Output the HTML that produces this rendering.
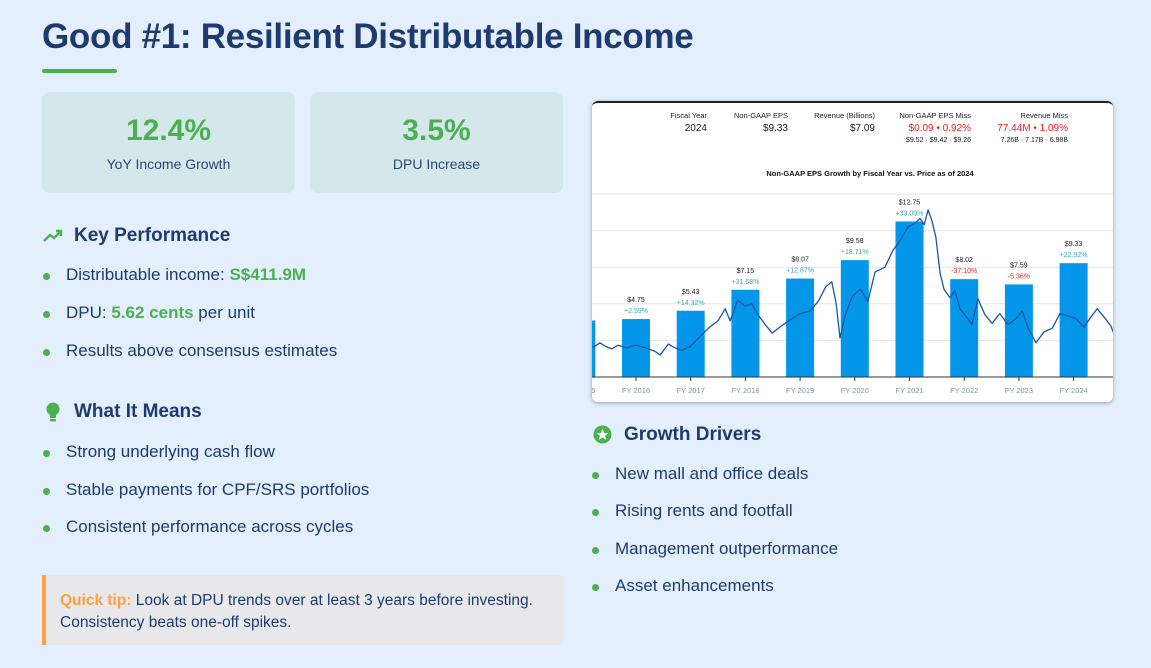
<!DOCTYPE html>
<html><head><meta charset="utf-8">
<style>
*{margin:0;padding:0;box-sizing:border-box}
body{width:1151px;height:668px;background:#e3effd;font-family:"Liberation Sans",sans-serif;color:#1e3a6e;position:relative;overflow:hidden}
.a{position:absolute}
h1{position:absolute;left:42px;top:17px;font-size:35px;font-weight:bold;color:#1e3a6e;letter-spacing:-0.3px}
.card{position:absolute;top:92px;height:101px;width:253px;background:#d4e8ec;border-radius:8px;text-align:center}
.card .v{font-size:30px;font-weight:bold;color:#4caf50;margin-top:22px}
.card .l{font-size:14px;color:#2a4670;margin-top:8px}
.sh{position:absolute;font-size:19px;font-weight:bold;color:#1e3a6e}
.li{position:absolute;font-size:17px;color:#1e3a6e}
.li:before{content:"";position:absolute;left:-23px;top:8px;width:7px;height:7px;border-radius:50%;background:#4caf50}
.g{color:#4caf50;font-weight:bold}
</style></head><body>
<h1>Good #1: Resilient Distributable Income</h1>
<div class="a" style="left:42px;top:69px;width:75px;height:4px;background:#4caf50;border-radius:2px"></div>
<div class="card" style="left:42px"><div class="v">12.4%</div><div class="l">YoY Income Growth</div></div>
<div class="card" style="left:310px"><div class="v">3.5%</div><div class="l">DPU Increase</div></div>

<svg class="a" style="left:42px;top:227px" width="22" height="18" viewBox="0 0 22 18"><polyline points="2,14 8,8 12,11 19,4" fill="none" stroke="#4caf50" stroke-width="2.5"/><polyline points="14,4 19,4 19,9" fill="none" stroke="#4caf50" stroke-width="2.5"/></svg>
<div class="sh" style="left:74px;top:225px">Key Performance</div>
<div class="li" style="left:66px;top:265px">Distributable income: <span class="g">S$411.9M</span></div>
<div class="li" style="left:66px;top:303px">DPU: <span class="g">5.62 cents</span> per unit</div>
<div class="li" style="left:66px;top:341px">Results above consensus estimates</div>

<svg class="a" style="left:45px;top:402px" width="16" height="22" viewBox="0 0 16 22"><circle cx="8" cy="7" r="6.5" fill="#4caf50"/><rect x="5" y="11" width="6" height="5" fill="#4caf50"/><rect x="5" y="17" width="6" height="2.5" rx="1" fill="#4caf50"/></svg>
<div class="sh" style="left:74px;top:401px">What It Means</div>
<div class="li" style="left:66px;top:442px">Strong underlying cash flow</div>
<div class="li" style="left:66px;top:480px">Stable payments for CPF/SRS portfolios</div>
<div class="li" style="left:66px;top:517px">Consistent performance across cycles</div>

<div class="a" style="left:42px;top:575px;width:521px;height:70px;background:#e8e8ea;border-left:4px solid #ff9f43;border-radius:0 5px 5px 0;padding:15px 0 0 14px;font-size:15.5px;line-height:22px;color:#1e3a6e"><span style="color:#ff9f43;font-weight:bold">Quick tip:</span> Look at DPU trends over at least 3 years before investing.<br>Consistency beats one-off spikes.</div>

<div class="a" style="left:592px;top:101px;width:521px;height:301px;background:#fff;border-top:2px solid #222;border-radius:6px;box-shadow:0 1px 4px rgba(0,0,0,0.35);overflow:hidden">
<svg id="chart" width="521" height="299" viewBox="592 103 521 299" style="display:block" font-family="Liberation Sans,sans-serif"></svg>
</div>

<svg class="a" style="left:593px;top:425px" width="19" height="19" viewBox="0 0 19 19"><circle cx="9.5" cy="9.5" r="9" fill="#4caf50"/><polygon points="9.5,3.5 11,8 15.5,8 12,10.8 13.3,15 9.5,12.4 5.7,15 7,10.8 3.5,8 8,8" fill="#fff"/></svg>
<div class="sh" style="left:624px;top:424px">Growth Drivers</div>
<div class="li" style="left:615px;top:464px">New mall and office deals</div>
<div class="li" style="left:615px;top:501px">Rising rents and footfall</div>
<div class="li" style="left:615px;top:539px">Management outperformance</div>
<div class="li" style="left:615px;top:576px">Asset enhancements</div>

<script>
const years=["FY 2015","FY 2016","FY 2017","FY 2018","FY 2019","FY 2020","FY 2021","FY 2022","FY 2023","FY 2024"];
const eps=[4.63,4.75,5.43,7.15,8.07,9.58,12.75,8.02,7.59,9.33];
const growth=["","+2.59%","+14.32%","+31.68%","+12.87%","+18.71%","+33.09%","-37.10%","-5.36%","+22.92%"];
const priceT=[-0.79,-0.66,-0.55,-0.44,-0.33,-0.18,0,0.18,0.35,0.44,0.59,0.71,0.84,0.99,1.17,1.35,1.50,1.63,1.72,1.86,1.99,2.12,2.23,2.36,2.49,2.63,2.82,3.00,3.18,3.33,3.47,3.58,3.66,3.73,3.82,3.95,4.10,4.24,4.37,4.55,4.70,4.83,4.97,5.10,5.19,5.27,5.34,5.41,5.48,5.56,5.63,5.74,5.83,5.92,6.03,6.14,6.25,6.38,6.51,6.65,6.80,6.95,7.06,7.17,7.31,7.46,7.61,7.75,7.90,8.04,8.19,8.30,8.43,8.56,8.68,8.74];
const priceV=[2.4,2.8,2.5,2.3,2.6,2.4,2.6,2.4,2.1,1.8,2.7,2.4,2.2,2.5,3.3,4.1,4.6,5.6,4.6,6.3,5.8,6.0,5.1,4.3,3.6,4.1,4.7,5.2,5.4,6.2,7.4,7.8,6.0,3.2,5.0,6.6,7.2,6.2,8.6,9.0,10.4,11.2,12.3,12.6,13.0,12.5,13.7,12.8,11.5,8.5,7.2,6.5,7.1,5.6,5.0,4.3,6.4,5.1,4.4,5.2,4.3,4.8,5.4,4.0,2.8,3.7,4.0,5.2,5.0,4.8,4.1,4.8,5.6,4.9,4.2,3.5];
const ticksY=[3,6,9,12,15];
const svg=document.getElementById('chart');
const NS='http://www.w3.org/2000/svg';
const x0=636,dx=54.7,base=377,k=12.2;
const X=t=>x0+t*dx, Y=v=>base-v*k;
function el(tag,attrs,parent){const e=document.createElementNS(NS,tag);for(const a in attrs)e.setAttribute(a,attrs[a]);(parent||svg).appendChild(e);return e;}
function txt(s,x,y,size,fill,anchor,weight){const e=el('text',{x:x,y:y,'font-size':size,fill:fill,'text-anchor':anchor||'middle','font-weight':weight||'normal'});e.textContent=s;return e;}
const hdr=[["Fiscal Year","2024",707],["Non-GAAP EPS","$9.33",788],["Revenue (Billions)","$7.09",875]];
hdr.forEach(h=>{const a=txt(h[0],h[2],118,7.5,'#222','end');const b=txt(h[1],h[2],131,10,'#222','end');});
let t;
t=txt("Non-GAAP EPS Miss",971,118,7.5,'#222','end');
t=txt("$0.09 • 0.92%",971,131,10,'#f21d1d','end');
t=txt("$9.52 · $9.42 · $9.26",971,142,7,'#222','end');
t=txt("Revenue Miss",1068,118,7.5,'#222','end');
t=txt("77.44M • 1.09%",1068,131,10,'#f21d1d','end');
t=txt("7.26B · 7.17B · 6.98B",1068,142,7,'#222','end');
t=txt("Non-GAAP EPS Growth by Fiscal Year vs. Price as of 2024",870,176,7.5,'#111','middle','bold');
ticksY.forEach(v=>{const g=el('line',{x1:592,x2:1113,y1:Y(v),y2:Y(v),stroke:'#e4e6ea','stroke-width':1});});
eps.forEach((v,i)=>{const cx=X(i-1);const r=el('rect',{x:cx-14,y:Y(v),width:28,height:base-Y(v),fill:'#0496e8'});
 if(i>0){const a=txt('$'+v.toFixed(2),cx,Y(v)-17,7,'#222','middle');
 const neg=growth[i][0]==='-';const b=txt(growth[i],cx,Y(v)-6,7,neg?'#f21d1d':'#3aaabb','middle');}});
const pts=priceT.map((tt,i)=>X(tt).toFixed(1)+','+Y(priceV[i]).toFixed(1)).join(' ');
const pl=el('polyline',{points:pts,fill:'none',stroke:'#1a55a8','stroke-width':1.3,'stroke-linejoin':'round'});


const ax=el('line',{x1:592,x2:1113,y1:base,y2:base,stroke:'#333','stroke-width':1});


years.forEach((y,i)=>{const cx=X(i-1);el('line',{x1:cx,x2:cx,y1:base,y2:base+4,stroke:'#333'});const l=txt(y,cx,393,7.5,'#8a93a0','middle');});
</script>
</body></html>
